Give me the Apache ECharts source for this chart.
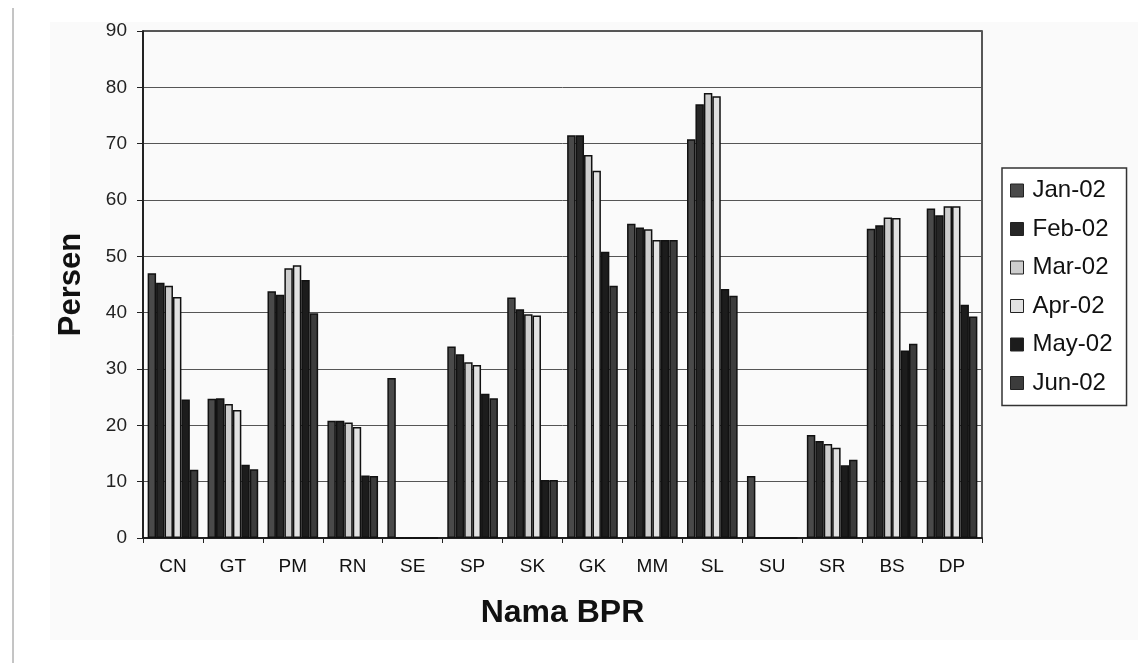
<!DOCTYPE html>
<html>
<head>
<meta charset="utf-8">
<style>
  html, body { margin: 0; padding: 0; background: #ffffff; }
  #chart { width: 1138px; height: 663px; }
</style>
<script src="https://cdn.jsdelivr.net/npm/echarts@6/dist/echarts.min.js"></script>
</head>
<body>
<div id="chart"></div>
<script>
// BPR names along the x axis
const categories = ['CN', 'GT', 'PM', 'RN', 'SE', 'SP', 'SK', 'GK', 'MM', 'SL', 'SU', 'SR', 'BS', 'DP'];

// Monthly percentages per BPR
const jan02 = [47.0, 24.7, 43.8, 20.8, 28.4, 34.0, 42.7, 71.5, 55.8, 70.8, 11.0, 18.3, 54.9, 58.5];
const feb02 = [45.3, 24.8, 43.2, 20.8, 0, 32.6, 40.6, 71.5, 55.1, 77.0, 0, 17.2, 55.5, 57.3];
const mar02 = [44.8, 23.8, 47.9, 20.5, 0, 31.2, 39.7, 68.0, 54.8, 79.0, 0, 16.7, 56.9, 58.9];
const apr02 = [42.8, 22.7, 48.4, 19.7, 0, 30.7, 39.5, 65.2, 52.9, 78.4, 0, 16.0, 56.8, 58.9];
const may02 = [24.6, 13.0, 45.8, 11.1, 0, 25.6, 10.3, 50.8, 52.9, 44.2, 0, 12.9, 33.3, 41.4];
const jun02 = [12.1, 12.2, 39.9, 11.0, 0, 24.8, 10.3, 44.8, 52.9, 43.0, 0, 13.9, 34.5, 39.3];

const yTicks = [0, 10, 20, 30, 40, 50, 60, 70, 80, 90];

const seriesDefs = [
  { name: 'Jan-02', data: jan02, color: '#4a4a4a' },
  { name: 'Feb-02', data: feb02, color: '#262626' },
  { name: 'Mar-02', data: mar02, color: '#cdcdcd' },
  { name: 'Apr-02', data: apr02, color: '#e2e2e2' },
  { name: 'May-02', data: may02, color: '#1c1c1c' },
  { name: 'Jun-02', data: jun02, color: '#3c3c3c' }
];

const FONT = '"Liberation Sans", Arial, sans-serif';

const chart = echarts.init(document.getElementById('chart'), null, { renderer: 'canvas' });

chart.setOption({
  backgroundColor: '#ffffff',
  animation: false,
  textStyle: { fontFamily: FONT, color: '#111' },
  graphic: [
    // faint paper tone behind the chart block
    { type: 'rect', z: -10, shape: { x: 50, y: 22, width: 1088, height: 618 }, style: { fill: '#fafafa' } },
    // thin rule down the left margin
    { type: 'line', z: -5, shape: { x1: 13, y1: 8, x2: 13, y2: 663 }, style: { stroke: '#8a8a8a', lineWidth: 1 } }
  ],
  grid: {
    left: 143, top: 31, right: 1138 - 982, bottom: 663 - 538,
    show: true, borderColor: '#222', borderWidth: 1.5, backgroundColor: 'transparent'
  },
  legend: {
    orient: 'vertical',
    left: 1002, top: 168,
    padding: [8, 14, 8, 8],
    itemGap: 9.5,
    itemWidth: 13, itemHeight: 13,
    borderColor: '#333', borderWidth: 1.5,
    backgroundColor: '#ffffff',
    icon: 'rect',
    itemStyle: { borderColor: '#222', borderWidth: 1 },
    textStyle: { fontFamily: FONT, fontSize: 24, color: '#111', lineHeight: 29, padding: [0, 0, 0, 4] },
    data: seriesDefs.map(s => s.name)
  },
  xAxis: {
    type: 'category',
    data: categories,
    name: 'Nama BPR',
    nameLocation: 'middle',
    nameGap: 59,
    nameTextStyle: { fontFamily: FONT, fontSize: 32, fontWeight: 'bold', color: '#111' },
    axisLine: { lineStyle: { color: '#111', width: 1.5 } },
    axisTick: { show: true, alignWithLabel: false, length: 5, lineStyle: { color: '#222' } },
    axisLabel: { fontFamily: FONT, fontSize: 19, color: '#111', margin: 19 }
  },
  yAxis: {
    type: 'value',
    min: 0, max: 90, interval: 10,
    name: 'Persen',
    nameLocation: 'middle',
    nameRotate: 90,
    nameGap: 56,
    nameTextStyle: { fontFamily: FONT, fontSize: 31, fontWeight: 'bold', color: '#111' },
    axisLine: { show: true, lineStyle: { color: '#111', width: 1.5 } },
    axisTick: { show: true, inside: false, length: 6, lineStyle: { color: '#222' } },
    axisLabel: {
      fontFamily: FONT, fontSize: 19, color: '#222', margin: 16,
      formatter: v => (yTicks.indexOf(v) >= 0 ? String(v) : '')
    },
    splitLine: { show: true, lineStyle: { color: '#555', width: 1 } }
  },
  series: seriesDefs.map(s => ({
    name: s.name,
    type: 'bar',
    data: s.data,
    barGap: '0%',
    barCategoryGap: '15.5%',
    itemStyle: { color: s.color, borderColor: '#111', borderWidth: 1.5 }
  }))
});
</script>
</body>
</html>
